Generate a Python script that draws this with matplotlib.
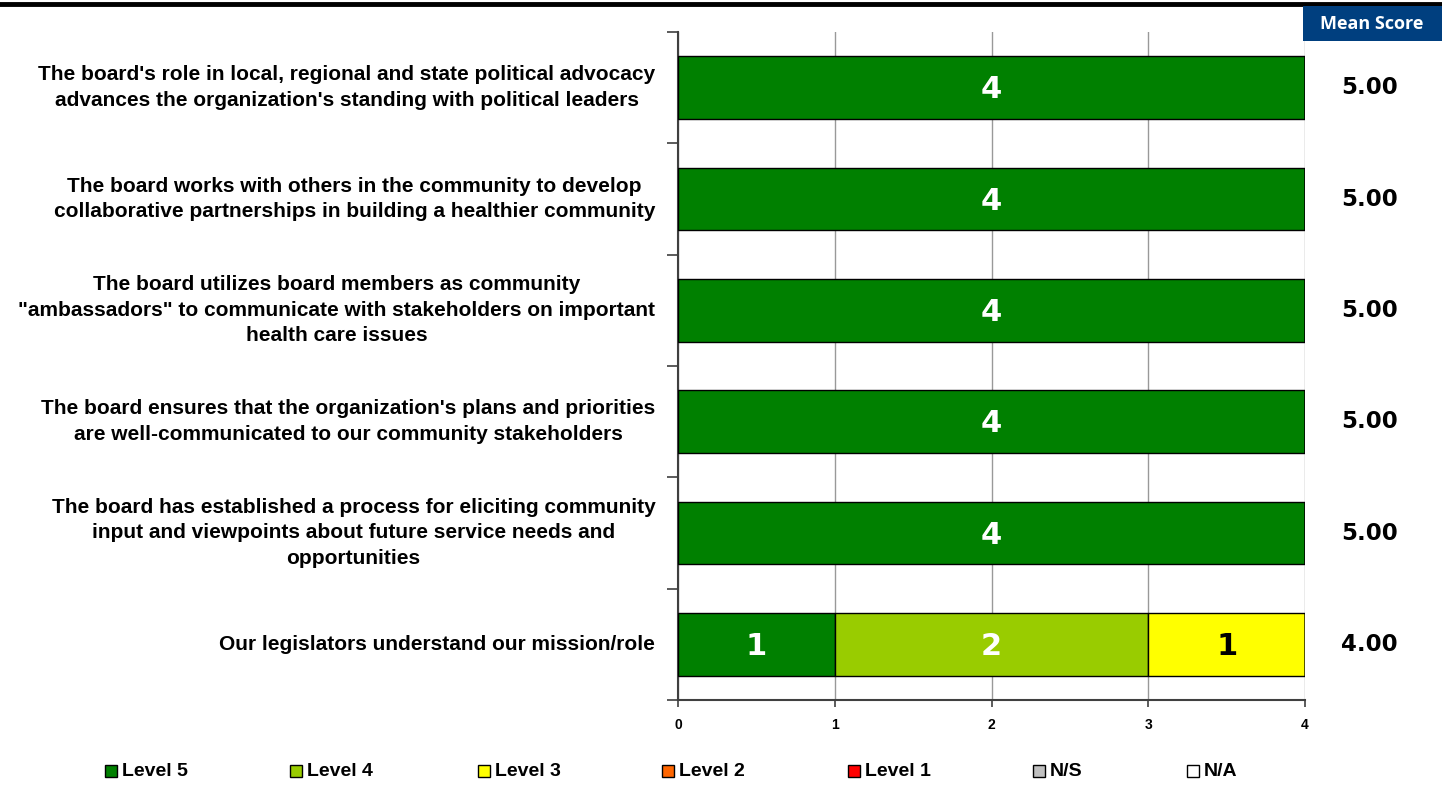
import matplotlib
matplotlib.use("Agg")
import matplotlib.pyplot as plt
from matplotlib.patches import Rectangle
from matplotlib.lines import Line2D
import numpy as np

questions = [
    "The board's role in local, regional and state political advocacy\nadvances the organization's standing with political leaders",
    "The board works with others in the community to develop\ncollaborative partnerships in building a healthier community",
    "The board utilizes board members as community\n\"ambassadors\" to communicate with stakeholders on important\nhealth care issues",
    "The board ensures that the organization's plans and priorities\nare well-communicated to our community stakeholders",
    "The board has established a process for eliciting community\ninput and viewpoints about future service needs and\nopportunities",
    "Our legislators understand our mission/role",
]
levels = ["Level 5", "Level 4", "Level 3", "Level 2", "Level 1", "N/S", "N/A"]
level_colors = ["#008000", "#99CC00", "#FFFF00", "#FF6600", "#FF0000", "#C0C0C0", "#FFFFFF"]
label_colors = ["white", "white", "black", "white", "white", "black", "black"]
counts = {
    "Level 5": [4, 4, 4, 4, 4, 1],
    "Level 4": [0, 0, 0, 0, 0, 2],
    "Level 3": [0, 0, 0, 0, 0, 1],
    "Level 2": [0, 0, 0, 0, 0, 0],
    "Level 1": [0, 0, 0, 0, 0, 0],
    "N/S": [0, 0, 0, 0, 0, 0],
    "N/A": [0, 0, 0, 0, 0, 0],
}
mean_scores = [5.00, 5.00, 5.00, 5.00, 5.00, 4.00]
x_ticks = [0, 1, 2, 3, 4]

W, H = 1442, 786
fig = plt.figure(figsize=(W / 100, H / 100), dpi=100)
ax = fig.add_axes([678 / W, 1 - 700 / H, (1305 - 678) / W, (700 - 32) / H])

n = len(questions)
y = np.arange(n)
left = np.zeros(n)
for lvl, col, tc in zip(levels, level_colors, label_colors):
    vals = np.array(counts[lvl], dtype=float)
    bars = ax.barh(y, vals, left=left, height=0.56, color=col, edgecolor="black",
                   linewidth=1.0, zorder=3)
    for b, v in zip(bars, vals):
        if v > 0:
            ax.text(b.get_x() + b.get_width() / 2, b.get_y() + b.get_height() / 2 + 0.02,
                    f"{int(v)}", ha="center", va="center", color=tc,
                    fontsize=22, fontweight="bold", family="DejaVu Sans", zorder=4)
    left += vals

ax.set_xlim(0, 4)
ax.set_ylim(n - 0.5, -0.5)
ax.set_xticks(x_ticks)
ax.set_xticklabels([str(t) for t in x_ticks], fontsize=10, fontweight="bold",
                   family="Liberation Sans")
ax.set_yticks(np.arange(n + 1) - 0.5)
ax.set_yticklabels([])
ax.tick_params(axis="y", length=8, width=1.2, color="#404040", direction="out")
ax.tick_params(axis="x", length=5, width=1.2, color="#404040", direction="out", pad=8)
ax.xaxis.grid(True, color="#999999", linewidth=1.0, zorder=0)
ax.set_axisbelow(True)
for s in ["top", "right"]:
    ax.spines[s].set_visible(False)
for s in ["left", "bottom"]:
    ax.spines[s].set_color("#404040")
    ax.spines[s].set_linewidth(1.5)

# question labels
for yi, q in zip(y, questions):
    ax.text(-0.145, yi, q, ha="right", va="center", multialignment="center",
            fontsize=15, fontweight="bold", family="Liberation Sans",
            transform=ax.transData, linespacing=1.43, clip_on=False)

# mean scores
for yi, m in zip(y, mean_scores):
    ax.text(4.41, yi, f"{m:.2f}", ha="center", va="center", fontsize=16.5,
            fontweight="bold", family="DejaVu Sans", clip_on=False)

# Mean Score header box
fig.patches.append(Rectangle((1303 / W, 1 - 41 / H), (W - 1303) / W, 35 / H,
                             transform=fig.transFigure, facecolor="#003F7F",
                             edgecolor="none", zorder=5))
fig.text(1372 / W, 1 - 24 / H, "Mean Score", ha="center", va="center",
         color="white", fontsize=13, fontweight="bold", family="Open Sans", zorder=6)

# top rule
fig.add_artist(Line2D([0, 1], [1 - 4 / H, 1 - 4 / H], transform=fig.transFigure,
                      color="black", linewidth=3.5))

# legend
legend_x = [105, 290, 478, 662, 848, 1033, 1187]
for lx, lvl, col in zip(legend_x, levels, level_colors):
    fig.patches.append(Rectangle((lx / W, 1 - 777 / H), 12 / W, 12 / H,
                                 transform=fig.transFigure, facecolor=col,
                                 edgecolor="black", linewidth=1.0))
    fig.text((lx + 17) / W, 1 - 771 / H, lvl, ha="left", va="center",
             fontsize=14, fontweight="bold", family="Liberation Sans")

fig.savefig("out.png", dpi=100)
